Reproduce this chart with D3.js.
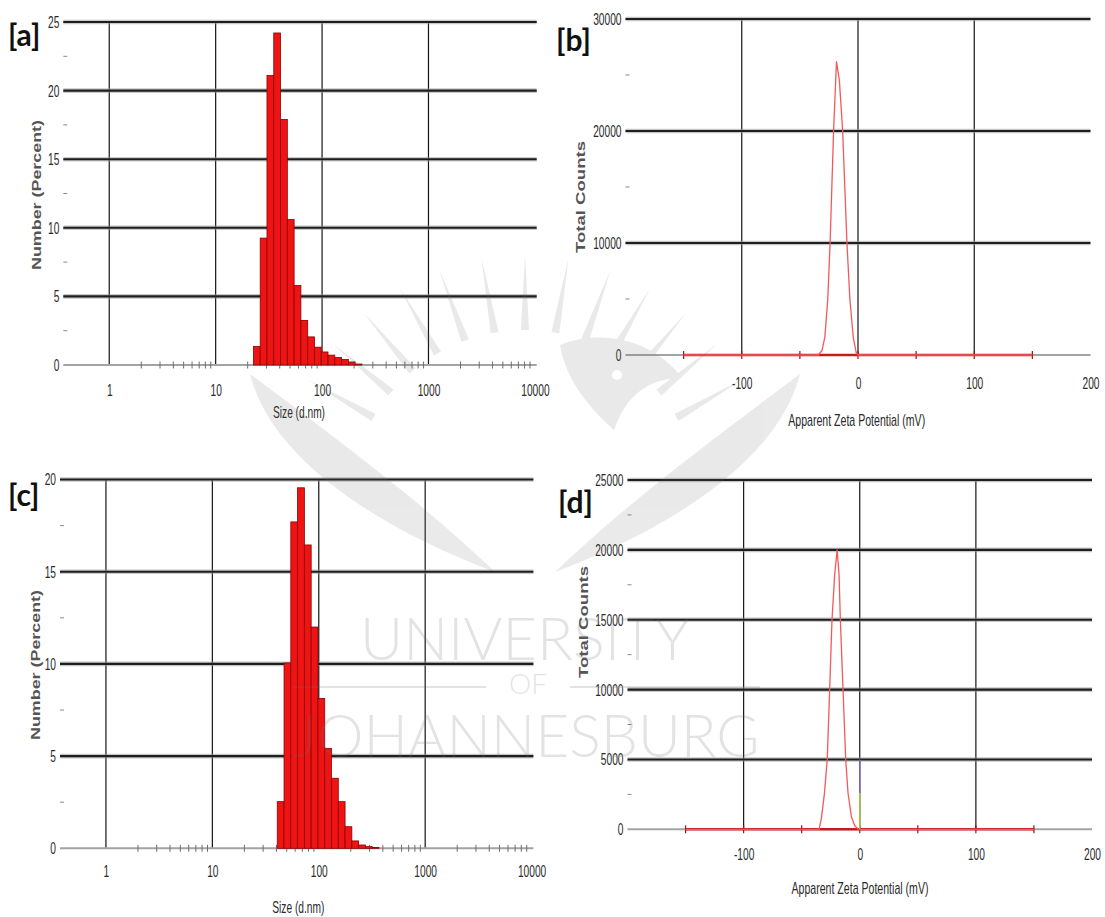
<!DOCTYPE html>
<html>
<head>
<meta charset="utf-8">
<script src="https://cdn.jsdelivr.net/npm/d3@7"></script>
<style>
  html, body { margin: 0; padding: 0; background: #fff; }
  svg { display: block; }
</style>
</head>
<body>
<svg id="fig" width="1105" height="917"></svg>
<script>
// ---- Size distribution by number: Zetasizer size classes (d.nm) and Number (%) ----
const sizeA   = [24.36, 28.21, 32.67, 37.84, 43.82, 50.75, 58.77, 68.06, 78.82, 91.28, 105.7, 122.4, 141.8, 164.2, 190.1, 220.2];
const numberA = [1.35, 9.25, 21.1, 24.2, 17.9, 10.6, 5.8, 3.25, 2.05, 1.3, 0.95, 0.72, 0.55, 0.4, 0.22, 0.07];

const sizeC   = [43.82, 50.75, 58.77, 68.06, 78.82, 91.28, 105.7, 122.4, 141.8, 164.2, 190.1, 220.2, 255.0, 295.3, 342.0];
const numberC = [2.53, 10.05, 17.7, 19.55, 16.45, 12.0, 8.13, 5.42, 3.8, 2.53, 1.17, 0.4, 0.18, 0.09, 0.05];

// ---- Zeta potential distributions: apparent zeta (mV) and total counts ----
const zetaB   = [-150, -34, -31, -28.5, -26, -24, -21, -18.5, -16, -13.2, -9.5, -7, -4, -1.5, 0, 150];
const countsB = [0, 0, 400, 1600, 5000, 10000, 20000, 26200, 24500, 20000, 10000, 5000, 1500, 200, 0, 0];

const zetaD   = [-150, -35, -33, -30.5, -28, -25.9, -23.9, -21.6, -19.5, -17.8, -16.7, -14.4, -12.1, -10.1, -7.2, -4.3, -1.4, 0, 150];
const countsD = [0, 0, 800, 2500, 5000, 10000, 15000, 18200, 20000, 18200, 15000, 10000, 5000, 2600, 900, 250, 20, 0, 0];

// ---- Axis ticks ----
const sizeTicks     = [1, 10, 100, 1000, 10000];
const sizeGrid      = [1, 10, 100, 1000];
const sizeMinorMult = [2, 3, 4, 5, 6, 7, 8, 9];
const zetaTicks     = [-100, 0, 100, 200];
const zetaGrid      = [-100, 0, 100];
const zetaMarks     = [-150, -100, -50, 0, 50, 100, 150];
const numberTicksA  = [0, 5, 10, 15, 20, 25];
const numberTicksC  = [0, 5, 10, 15, 20];
const countTicksB   = [0, 10000, 20000, 30000];
const countTicksD   = [0, 5000, 10000, 15000, 20000, 25000];

// one size class spans a constant ratio (70 classes, 0.4 .. 10000 nm)
const CLASS_RATIO = Math.pow(10000 / 0.4, 1 / 69);

const svg = d3.select("#fig");
const TICK_FONT = "'Liberation Sans', Arial, sans-serif";
const TICK_SIZE = 17;
const SQUEEZE = 0.6;

function gridLines(g, hy, p) {
  // thick, slightly soft horizontal grid
  g.append("g").selectAll("line").data(hy).join("line")
    .attr("x1", p.left).attr("x2", p.right)
    .attr("y1", d => p.y(d)).attr("y2", d => p.y(d))
    .attr("stroke", "#9a9a9a").attr("stroke-width", 4.6).attr("stroke-opacity", 0.55);
  g.append("g").selectAll("line").data(hy).join("line")
    .attr("x1", p.left).attr("x2", p.right)
    .attr("y1", d => p.y(d)).attr("y2", d => p.y(d))
    .attr("stroke", "#1e1e1e").attr("stroke-width", 2.1);
}

function styleTickText(axisG, leftAxis) {
  axisG.select(".domain").remove();
  axisG.selectAll("text")
    .attr("font-family", TICK_FONT)
    .attr("font-size", TICK_SIZE)
    .attr("fill", "#2a2a2a")
    .attr("transform", `scale(${SQUEEZE},1)`);
  if (leftAxis) {
    axisG.selectAll("text").attr("x", -4 / SQUEEZE);
  }
}

function yMinorTicks(g, p, vals) {
  g.append("g").selectAll("line").data(vals).join("line")
    .attr("x1", p.left).attr("x2", p.left + 4)
    .attr("y1", d => p.y(d)).attr("y2", d => p.y(d))
    .attr("stroke", "#8a8a8a").attr("stroke-width", 1);
}

function titles(g, p) {
  g.append("text")
    .attr("x", p.title[0]).attr("y", p.title[1]).attr("dy", "0.35em")
    .attr("text-anchor", "middle")
    .attr("font-family", TICK_FONT).attr("font-size", 17)
    .attr("fill", "#2a2a2a")
    .attr("textLength", p.titleLen).attr("lengthAdjust", "spacingAndGlyphs")
    .text(p.xTitle);
  g.append("text")
    .attr("transform", `translate(${p.yTitle[0]},${p.yTitle[1]}) rotate(-90)`)
    .attr("dy", "0.35em")
    .attr("text-anchor", "middle")
    .attr("font-family", TICK_FONT).attr("font-size", 13).attr("font-weight", "bold")
    .attr("fill", "#555")
    .attr("textLength", p.yTitleLen).attr("lengthAdjust", "spacingAndGlyphs")
    .text(p.yLabel);
  g.append("text")
    .attr("x", p.tag[0]).attr("y", p.tag[1])
    .attr("font-family", "Lato, 'Open Sans', sans-serif").attr("font-weight", 700)
    .attr("font-size", 30).attr("fill", "#111")
    .text(p.tagText);
}

function drawSizePanel(p, sizes, values) {
  const g = svg.append("g");
  const x = d3.scaleLog().domain([0.37, 10400]).range([p.left, p.right]);
  const y = d3.scaleLinear().domain([0, p.yMax]).range([p.bottom, p.top]);
  p.x = x; p.y = y;

  // vertical decade grid
  g.append("g").selectAll("line").data(sizeGrid).join("line")
    .attr("x1", d => x(d)).attr("x2", d => x(d))
    .attr("y1", p.top).attr("y2", p.bottom)
    .attr("stroke", "#151515").attr("stroke-width", 1.2);

  gridLines(g, p.yTicks.filter(v => v > 0), p);
  yMinorTicks(g, p, p.yMinor);

  // baseline
  g.append("line").attr("x1", p.left).attr("x2", p.right)
    .attr("y1", y(0)).attr("y2", y(0))
    .attr("stroke", "#a3a3a3").attr("stroke-width", 2);

  // minor log ticks on the baseline
  const minor = sizeGrid.flatMap(d => sizeMinorMult.map(k => d * k));
  g.append("g").selectAll("line").data(minor).join("line")
    .attr("x1", d => x(d)).attr("x2", d => x(d))
    .attr("y1", y(0) - 3.5).attr("y2", y(0) + 3.5)
    .attr("stroke", "#6d6d6d").attr("stroke-width", 1);

  // histogram bars, one per size class
  const half = Math.sqrt(CLASS_RATIO);
  g.append("g").selectAll("rect").data(sizes.map((s, i) => ({ s, v: values[i] }))).join("rect")
    .attr("x", d => x(d.s / half))
    .attr("width", d => x(d.s * half) - x(d.s / half))
    .attr("y", d => y(d.v))
    .attr("height", d => y(0) - y(d.v))
    .attr("fill", "#ee1414")
    .attr("stroke", "#8c0000").attr("stroke-width", 0.8);

  const ax = g.append("g").attr("transform", `translate(0,${y(0)})`)
    .call(d3.axisBottom(x).tickValues(sizeTicks).tickFormat(d3.format("d")).tickSize(0).tickPadding(p.tickPad));
  styleTickText(ax, false);

  const ay = g.append("g").attr("transform", `translate(${p.left},0)`)
    .call(d3.axisLeft(y).tickValues(p.yTicks).tickFormat(d3.format("d")).tickSize(0));
  styleTickText(ay, true);

  titles(g, p);
}

function drawZetaPanel(p, zeta, counts) {
  const g = svg.append("g");
  const x = d3.scaleLinear().domain([-200, 200]).range([p.left, p.right]);
  const y = d3.scaleLinear().domain([0, p.yMax]).range([p.bottom, p.top]);
  p.x = x; p.y = y;

  g.append("g").selectAll("line").data(zetaGrid).join("line")
    .attr("x1", d => x(d)).attr("x2", d => x(d))
    .attr("y1", p.top).attr("y2", p.bottom)
    .attr("stroke", "#151515").attr("stroke-width", 1.2);

  gridLines(g, p.yTicks.filter(v => v > 0), p);
  yMinorTicks(g, p, p.yMinor);

  g.append("line").attr("x1", p.left).attr("x2", p.right)
    .attr("y1", y(0)).attr("y2", y(0))
    .attr("stroke", "#a3a3a3").attr("stroke-width", 2);

  // measured range along the baseline
  const ext = d3.extent(zeta);
  g.append("line").attr("x1", x(ext[0])).attr("x2", x(ext[1]))
    .attr("y1", y(0)).attr("y2", y(0))
    .attr("stroke", "#c41c1c").attr("stroke-width", 2.4);
  g.append("g").selectAll("line").data(zetaMarks).join("line")
    .attr("x1", d => x(d)).attr("x2", d => x(d))
    .attr("y1", y(0) - 4).attr("y2", y(0) + 4)
    .attr("stroke", "#a01010").attr("stroke-width", 1.2);

  if (p.zeroMarker) {
    g.append("line").attr("x1", x(0)).attr("x2", x(0))
      .attr("y1", y(5000)).attr("y2", y(2600))
      .attr("stroke", "#7a5fd0").attr("stroke-width", 1.5);
    g.append("line").attr("x1", x(0)).attr("x2", x(0))
      .attr("y1", y(2600)).attr("y2", y(0))
      .attr("stroke", "#a8c040").attr("stroke-width", 1.5);
  }

  const line = d3.line().x(d => x(d[0])).y(d => y(d[1]));
  g.append("path").datum(zeta.map((z, i) => [z, counts[i]]))
    .attr("d", line)
    .attr("fill", "none").attr("stroke", "#f25a5a").attr("stroke-width", 1.3)
    .attr("stroke-linejoin", "round");

  const ax = g.append("g").attr("transform", `translate(0,${y(0)})`)
    .call(d3.axisBottom(x).tickValues(zetaTicks).tickFormat(d3.format("d")).tickSize(0).tickPadding(p.tickPad));
  styleTickText(ax, false);
  ax.selectAll("text").text(d => d < 0 ? "-" + Math.abs(d) : d);

  const ay = g.append("g").attr("transform", `translate(${p.left},0)`)
    .call(d3.axisLeft(y).tickValues(p.yTicks).tickFormat(d3.format("d")).tickSize(0));
  styleTickText(ay, true);

  titles(g, p);
}

drawSizePanel({
  left: 63.3, right: 536.7, top: 22, bottom: 365, yMax: 25,
  yTicks: numberTicksA, yMinor: [2.5, 7.5, 12.5, 17.5, 22.5], tickPad: 19,
  xTitle: "Size (d.nm)", title: [299, 411.7], titleLen: 52,
  yLabel: "Number (Percent)", yTitle: [36, 195], yTitleLen: 150,
  tagText: "[a]", tag: [8, 46]
}, sizeA, numberA);

drawSizePanel({
  left: 60, right: 533.4, top: 479.5, bottom: 848.3, yMax: 20,
  yTicks: numberTicksC, yMinor: [2.5, 7.5, 12.5, 17.5], tickPad: 17,
  xTitle: "Size (d.nm)", title: [298.3, 906.7], titleLen: 52,
  yLabel: "Number (Percent)", yTitle: [35, 665], yTitleLen: 150,
  tagText: "[c]", tag: [8, 506]
}, sizeC, numberC);

drawZetaPanel({
  left: 625.5, right: 1090.5, top: 19, bottom: 355, yMax: 30000,
  yTicks: countTicksB, yMinor: [5000, 15000, 25000], tickPad: 22,
  xTitle: "Apparent Zeta Potential (mV)", title: [856.7, 420], titleLen: 137,
  yLabel: "Total Counts", yTitle: [580, 197], yTitleLen: 112,
  tagText: "[b]", tag: [556, 51]
}, zetaB, countsB);

drawZetaPanel({
  left: 627.5, right: 1092, top: 480, bottom: 829.3, yMax: 25000,
  yTicks: countTicksD, yMinor: [2500, 7500, 12500, 17500, 22500], tickPad: 19,
  xTitle: "Apparent Zeta Potential (mV)", title: [860, 888.3], titleLen: 137,
  yLabel: "Total Counts", yTitle: [583, 622], yTitleLen: 112,
  tagText: "[d]", tag: [558, 513], zeroMarker: true
}, zetaD, countsD);

// ---- University of Johannesburg watermark laid over the figure ----
const wm = svg.append("g").attr("fill", "#6f6f6f");
const wmShapes = wm.append("g").attr("opacity", 0.15);

// crest of feathers fanning upwards
const crest = d3.range(-60, 61, 10);
const cx = 525, cy = 505;
wmShapes.append("g").selectAll("path").data(crest).join("path")
  .attr("d", a => {
    const r0 = 175, r1 = 250, w = 4;
    const t = a * Math.PI / 180;
    const sx = Math.sin(t), sy = -Math.cos(t);
    const bx = cx + r0 * sx, by = cy + r0 * sy;
    const tx = cx + r1 * sx, ty = cy + r1 * sy;
    return `M${bx - w * sy},${by + w * sx} L${tx},${ty} L${bx + w * sy},${by - w * sx} Z`;
  });

// sweeping wings converging below the crest
wmShapes.append("path").attr("d", "M250,374 C270,455 370,525 495,572 C425,505 345,445 250,374 Z");
wmShapes.append("path").attr("d", "M800,374 C780,455 680,525 555,572 C625,505 705,445 800,374 Z");
// head with eye
wmShapes.append("path").attr("d", "M560,345 C600,328 655,340 682,378 C648,378 626,396 614,430 C592,410 566,382 560,345 Z");
wmShapes.append("circle").attr("cx", 617).attr("cy", 375).attr("r", 5).attr("fill", "#fff");

const wmText = wm.append("g").attr("opacity", 0.19);
const wmFont = "Lato, 'Open Sans', sans-serif";
wmText.append("text").attr("x", 525).attr("y", 660).attr("text-anchor", "middle")
  .attr("font-family", wmFont).attr("font-weight", 300).attr("font-size", 60)
  .attr("textLength", 330).attr("lengthAdjust", "spacingAndGlyphs")
  .text("UNIVERSITY");
wmText.append("text").attr("x", 528).attr("y", 694).attr("text-anchor", "middle")
  .attr("font-family", wmFont).attr("font-weight", 300).attr("font-size", 28)
  .text("OF");
wmText.append("rect").attr("x", 293).attr("y", 686).attr("width", 193).attr("height", 2);
wmText.append("rect").attr("x", 570).attr("y", 686).attr("width", 190).attr("height", 2);
wmText.append("text").attr("x", 526).attr("y", 757).attr("text-anchor", "middle")
  .attr("font-family", wmFont).attr("font-weight", 300).attr("font-size", 60)
  .attr("textLength", 467).attr("lengthAdjust", "spacingAndGlyphs")
  .text("JOHANNESBURG");
</script>
</body>
</html>
